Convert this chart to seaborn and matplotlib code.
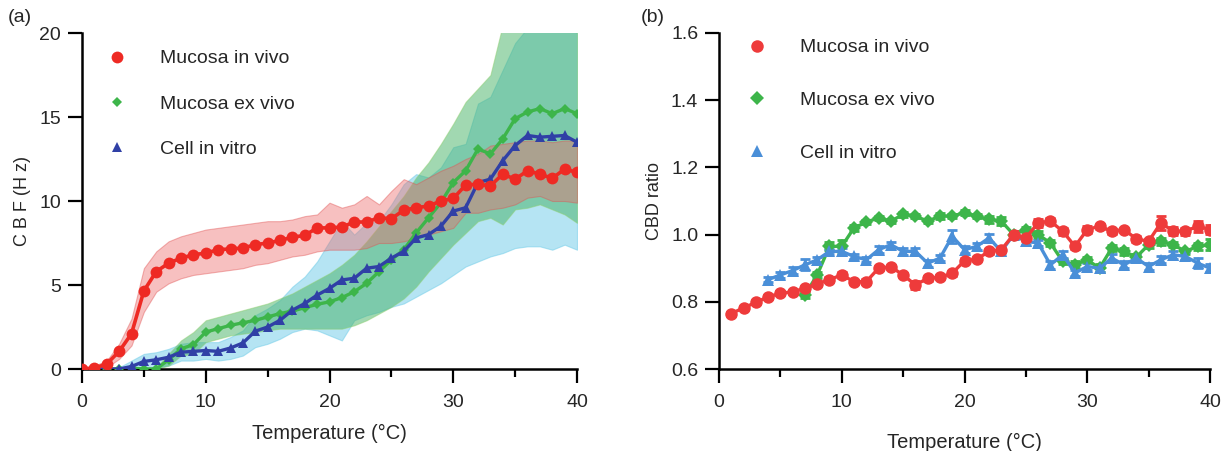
import numpy as np
import pandas as pd
import matplotlib
matplotlib.use("Agg")
import matplotlib.pyplot as plt
from matplotlib.lines import Line2D
from matplotlib.ticker import MultipleLocator, FormatStrFormatter
import seaborn as sns

# ---------------- data: panel (a) CBF (Hz) ----------------
temp_a = list(range(0, 41))
invivo_mean = [0.0, 0.05, 0.3, 1.05, 2.1, 4.65, 5.8, 6.3, 6.6, 6.8, 6.9, 7.1, 7.15, 7.2, 7.4, 7.5,
               7.65, 7.85, 7.95, 8.4, 8.4, 8.45, 8.75, 8.75, 9.0, 8.95, 9.45, 9.6, 9.7, 10.0, 10.15,
               10.95, 11.0, 10.9, 11.6, 11.3, 11.8, 11.6, 11.35, 11.9, 11.7]
invivo_low = [0.0, 0.0, 0.1, 0.6, 1.4, 3.4, 4.6, 5.1, 5.4, 5.6, 5.7, 5.8, 5.9, 6.0, 6.2, 6.3,
              6.5, 6.7, 6.8, 7.0, 7.1, 7.1, 7.1, 7.2, 7.5, 7.5, 7.6, 7.8, 8.0, 8.2, 8.4,
              9.3, 9.3, 9.5, 9.6, 9.8, 10.2, 10.3, 10.0, 10.0, 9.9]
invivo_high = [0.1, 0.2, 0.5, 1.5, 3.0, 6.0, 7.0, 7.6, 7.9, 8.1, 8.3, 8.4, 8.5, 8.6, 8.7, 8.8,
               8.8, 8.9, 9.1, 9.2, 9.9, 9.6, 9.8, 10.3, 9.8, 10.6, 11.3, 11.0, 11.4, 11.8, 12.1,
               12.5, 12.8, 13.3, 13.4, 13.5, 13.6, 13.6, 13.5, 13.6, 13.6]

exvivo_mean = [0.0, 0.0, 0.0, 0.0, 0.05, 0.0, 0.0, 0.55, 1.2, 1.45, 2.2, 2.4, 2.6, 2.75, 2.9, 3.1,
               3.3, 3.45, 3.65, 3.85, 4.0, 4.25, 4.6, 5.1, 5.8, 6.5, 7.1, 8.1, 9.0, 9.9, 11.1,
               11.8, 13.1, 12.8, 13.7, 14.9, 15.3, 15.5, 15.2, 15.5, 15.2]
exvivo_low = [0.0, 0.0, 0.0, 0.0, 0.0, 0.0, 0.0, 0.2, 0.8, 0.9, 1.6, 1.8, 2.0, 2.1, 2.2, 2.3,
              2.4, 2.4, 2.4, 2.4, 2.4, 2.4, 2.6, 2.9, 3.3, 3.7, 4.2, 4.9, 5.8, 6.6, 7.4,
              8.1, 8.8, 9.0, 8.6, 9.5, 9.6, 9.8, 9.5, 9.2, 8.7]
exvivo_high = [0.0, 0.0, 0.0, 0.0, 0.1, 0.1, 0.1, 0.9, 1.7, 2.2, 2.9, 3.1, 3.3, 3.5, 3.7, 3.9,
               4.2, 4.5, 4.9, 5.3, 5.7, 6.2, 6.8, 7.6, 8.5, 9.4, 10.3, 11.4, 12.3, 13.4, 14.6,
               15.9, 16.7, 17.5, 20.5, 21.5, 22.0, 22.0, 22.0, 22.0, 22.0]

vitro_mean = [0.0, 0.0, 0.0, 0.0, 0.15, 0.45, 0.55, 0.7, 1.0, 1.05, 1.1, 1.05, 1.25, 1.55, 2.25, 2.5,
              2.9, 3.5, 3.9, 4.4, 4.8, 5.3, 5.4, 6.0, 6.1, 6.6, 7.0, 7.8, 8.0, 8.5, 9.4,
              9.6, 11.1, 11.3, 12.4, 13.3, 13.9, 13.8, 13.85, 13.9, 13.5]
vitro_low = [0.0, 0.0, 0.0, 0.0, 0.0, 0.1, 0.1, 0.2, 0.5, 0.5, 0.6, 0.5, 0.6, 0.8, 1.3, 1.5,
             1.8, 2.2, 2.4, 2.3, 2.0, 1.7, 2.9, 3.2, 3.4, 3.7, 3.9, 4.3, 4.7, 5.1, 5.6,
             6.1, 6.4, 6.7, 6.9, 7.2, 7.3, 7.3, 7.1, 7.4, 7.1]
vitro_high = [0.0, 0.0, 0.0, 0.1, 0.5, 0.9, 1.0, 1.2, 1.5, 1.6, 1.6, 1.6, 1.9, 2.3, 3.2, 3.6,
              4.1, 4.9, 5.5, 6.4, 7.6, 8.8, 8.0, 8.7, 8.8, 9.8, 11.0, 11.6, 11.4, 12.0, 13.2,
              13.4, 15.8, 16.2, 17.8, 19.4, 20.3, 20.5, 20.6, 20.4, 20.0]

# ---------------- data: panel (b) CBD ratio ----------------
temp_invivo_b = list(range(1, 41))
invivo_b = [0.765, 0.782, 0.798, 0.815, 0.825, 0.83, 0.84, 0.854, 0.866, 0.88, 0.86, 0.86, 0.90,
            0.904, 0.88, 0.85, 0.87, 0.873, 0.885, 0.922, 0.927, 0.95, 0.955, 1.0, 0.99, 1.035,
            1.04, 1.01, 0.965, 1.015, 1.025, 1.01, 1.015, 0.987, 0.98, 1.035, 1.01, 1.01, 1.025, 1.015]
invivo_b_err = [0.006, 0.006, 0.006, 0.006, 0.006, 0.006, 0.008, 0.006, 0.008, 0.01, 0.006, 0.008,
                0.006, 0.006, 0.006, 0.012, 0.008, 0.006, 0.008, 0.008, 0.006, 0.008, 0.006, 0.01,
                0.008, 0.012, 0.008, 0.01, 0.008, 0.01, 0.008, 0.008, 0.006, 0.008, 0.008, 0.02,
                0.012, 0.01, 0.016, 0.014]

temp_exvivo_b = list(range(7, 41))
exvivo_b = [0.82, 0.88, 0.965, 0.965, 1.02, 1.037, 1.05, 1.04, 1.06, 1.055, 1.04, 1.055, 1.055,
            1.065, 1.055, 1.045, 1.04, 1.0, 1.015, 1.0, 0.975, 0.92, 0.91, 0.925, 0.90, 0.96,
            0.95, 0.933, 0.97, 0.98, 0.97, 0.95, 0.965, 0.97]
exvivo_b_err = [0.008, 0.01, 0.012, 0.02, 0.008, 0.006, 0.006, 0.006, 0.008, 0.006, 0.006, 0.01,
                0.006, 0.008, 0.006, 0.01, 0.012, 0.01, 0.008, 0.01, 0.008, 0.008, 0.01, 0.008,
                0.012, 0.008, 0.01, 0.008, 0.01, 0.01, 0.008, 0.008, 0.01, 0.016]

temp_vitro_b = list(range(4, 41))
vitro_b = [0.866, 0.88, 0.893, 0.91, 0.925, 0.95, 0.95, 0.935, 0.925, 0.955, 0.97, 0.95, 0.95,
           0.915, 0.93, 0.995, 0.955, 0.965, 0.99, 0.95, 1.0, 0.98, 0.975, 0.91, 0.94, 0.886,
           0.905, 0.90, 0.93, 0.91, 0.93, 0.905, 0.925, 0.94, 0.935, 0.915, 0.90]
vitro_b_err = [0.008, 0.01, 0.01, 0.016, 0.008, 0.008, 0.01, 0.008, 0.008, 0.01, 0.008, 0.01, 0.01,
               0.01, 0.01, 0.02, 0.01, 0.01, 0.012, 0.01, 0.01, 0.012, 0.01, 0.012, 0.01, 0.01,
               0.01, 0.01, 0.012, 0.01, 0.01, 0.01, 0.01, 0.012, 0.012, 0.014, 0.012]

labels = ["Mucosa in vivo", "Mucosa ex vivo", "Cell in vitro"]

# ---------------- styling ----------------
sns.set_theme(style="ticks")
plt.rcParams["font.family"] = ["Liberation Sans", "DejaVu Sans"]
plt.rcParams["axes.linewidth"] = 1.6

RED = "#EE2A24"
GREEN = "#3DB54A"
BLUE_A = "#3040A6"
BLUE_B = "#4A8FD8"
RED_B = "#EE3B3B"

fig = plt.figure(figsize=(12.28, 4.51), dpi=100)
ax1 = fig.add_axes([82 / 1228, 1 - 369 / 451, 495 / 1228, 336 / 451])
ax2 = fig.add_axes([719 / 1228, 1 - 369 / 451, 491 / 1228, 336 / 451])

# ---- panel (a) ----
ax1.fill_between(temp_a, vitro_low, vitro_high, color="#6CCBE8", alpha=0.5, lw=0.8,
                 edgecolor="#6CCBE8", zorder=1)
ax1.fill_between(temp_a, exvivo_low, exvivo_high, color="#45B265", alpha=0.5, lw=0.8,
                 edgecolor="#8CCF70", zorder=2)
ax1.fill_between(temp_a, invivo_low, invivo_high, color="#EE6A6A", alpha=0.42, lw=0.8,
                 edgecolor="#E05050", zorder=3)

df_a = pd.DataFrame({
    "T": temp_a * 3,
    "v": exvivo_mean + vitro_mean + invivo_mean,
    "s": ["ex"] * 41 + ["vitro"] * 41 + ["vivo"] * 41,
})
sns.lineplot(data=df_a[df_a.s == "ex"], x="T", y="v", ax=ax1, color=GREEN, lw=2.4,
             marker="D", markersize=5.5, markeredgewidth=0, zorder=4)
sns.lineplot(data=df_a[df_a.s == "vitro"], x="T", y="v", ax=ax1, color=BLUE_A, lw=2.4,
             marker="^", markersize=7, markeredgewidth=0, zorder=5)
sns.lineplot(data=df_a[df_a.s == "vivo"], x="T", y="v", ax=ax1, color=RED, lw=2.6,
             marker="o", markersize=8.5, markeredgewidth=0, zorder=6)

ax1.set_xlim(0, 40)
ax1.set_ylim(0, 20)
ax1.xaxis.set_major_locator(MultipleLocator(10))
ax1.xaxis.set_minor_locator(MultipleLocator(5))
ax1.yaxis.set_major_locator(MultipleLocator(5))
ax1.set_xlabel("Temperature (°C)", fontsize=14.5, labelpad=9)
ax1.set_ylabel("C B F (H z)", fontsize=13, labelpad=6)

# ---- panel (b) ----
for T, v, e, col, mk, ms in [
    (temp_exvivo_b, exvivo_b, exvivo_b_err, GREEN, "D", 7),
    (temp_vitro_b, vitro_b, vitro_b_err, BLUE_B, "^", 8.5),
    (temp_invivo_b, invivo_b, invivo_b_err, RED_B, "o", 9),
]:
    ax2.errorbar(T, v, yerr=e, fmt="none", ecolor=col, elinewidth=2, capsize=3.5,
                 capthick=2, zorder=3)
    sns.lineplot(x=T, y=v, ax=ax2, color=col, lw=2.4, marker=mk, markersize=ms,
                 markeredgewidth=0, zorder=4)

ax2.set_xlim(0, 40)
ax2.set_ylim(0.6, 1.6)
ax2.xaxis.set_major_locator(MultipleLocator(10))
ax2.xaxis.set_minor_locator(MultipleLocator(5))
ax2.yaxis.set_major_locator(MultipleLocator(0.2))
ax2.yaxis.set_major_formatter(FormatStrFormatter("%.1f"))
ax2.set_xlabel("Temperature (°C)", fontsize=14.5, labelpad=16)
ax2.set_ylabel("CBD ratio", fontsize=13, labelpad=6)

for ax in (ax1, ax2):
    sns.despine(ax=ax)
    ax.tick_params(axis="both", which="major", direction="out", length=10, width=1.6,
                   labelsize=14, color="black", pad=5)
    ax.tick_params(axis="x", which="major", pad=8)
    ax.tick_params(axis="x", which="minor", direction="out", length=6, width=1.6, color="black")
    for sp in ("left", "bottom"):
        ax.spines[sp].set_color("black")
        ax.spines[sp].set_linewidth(1.8)
    ax.set_facecolor("white")
    ax.grid(False)

# legends
def handles(colors, sizes):
    mks = ["o", "D", "^"]
    return [Line2D([], [], ls="none", marker=m, color=c, markersize=s, markeredgewidth=0)
            for m, c, s in zip(mks, colors, sizes)]

leg1 = ax1.legend(handles([RED, GREEN, BLUE_A], [8.5, 5.5, 7]), labels,
                  loc="upper left", bbox_to_anchor=(0.035, 0.973), frameon=False, fontsize=14,
                  handlelength=1.0, handletextpad=1.72, labelspacing=1.42, borderaxespad=0)
leg2 = ax2.legend(handles([RED_B, GREEN, BLUE_B], [9, 7, 8.5]), labels,
                  loc="upper left", bbox_to_anchor=(0.042, 1.006), frameon=False, fontsize=14,
                  handlelength=1.0, handletextpad=1.72, labelspacing=1.8, borderaxespad=0)

fig.text(8 / 1228, 1 - 18 / 451, "(a)", fontsize=14, va="center", ha="left")
fig.text(641 / 1228, 1 - 18 / 451, "(b)", fontsize=14, va="center", ha="left")

fig.savefig("out.png", dpi=100, facecolor="white")
